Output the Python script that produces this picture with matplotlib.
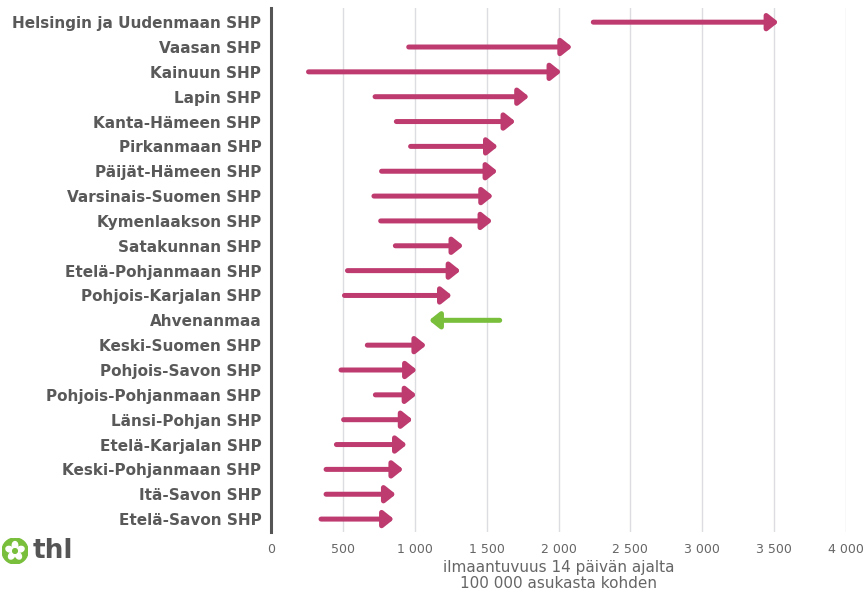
import matplotlib
matplotlib.use("Agg")
import matplotlib.pyplot as plt
from matplotlib.patches import Circle, Ellipse
import numpy as np

regions = [
    "Helsingin ja Uudenmaan SHP", "Vaasan SHP", "Kainuun SHP", "Lapin SHP",
    "Kanta-Hämeen SHP", "Pirkanmaan SHP", "Päijät-Hämeen SHP",
    "Varsinais-Suomen SHP", "Kymenlaakson SHP", "Satakunnan SHP",
    "Etelä-Pohjanmaan SHP", "Pohjois-Karjalan SHP", "Ahvenanmaa",
    "Keski-Suomen SHP", "Pohjois-Savon SHP", "Pohjois-Pohjanmaan SHP",
    "Länsi-Pohjan SHP", "Etelä-Karjalan SHP", "Keski-Pohjanmaan SHP",
    "Itä-Savon SHP", "Etelä-Savon SHP",
]
# earlier and latest incidence per 100 000 (14 days)
start = [2242, 958, 261, 724, 872, 971, 769, 716, 763, 865, 532, 511, 1591,
         670, 487, 726, 505, 455, 383, 383, 348]
end = [3530, 2095, 2020, 1795, 1700, 1578, 1575, 1545, 1540, 1338, 1318, 1258,
       1100, 1080, 1015, 1012, 985, 945, 920, 868, 855]
xticks = [0, 500, 1000, 1500, 2000, 2500, 3000, 3500, 4000]

pink = "#be3b6f"
green = "#79bf3c"
grey = "#595959"

fig = plt.figure(figsize=(8.66, 5.90), dpi=100)
ax = fig.add_axes([271 / 866, 58 / 590, 575 / 866, 524 / 590])

for i, (s, e) in enumerate(zip(start, end)):
    col = pink if e >= s else green
    ax.annotate("", xy=(e, i), xytext=(s, i),
                arrowprops=dict(arrowstyle="-|>,head_length=0.75,head_width=0.6",
                                color=col, lw=3.6, shrinkA=0, shrinkB=0,
                                mutation_scale=8, joinstyle="round"))

ax.set_xlim(0, 4000)
ax.set_ylim(len(regions) - 0.48, -0.57)
ax.set_yticks(range(len(regions)))
ax.set_yticklabels(regions, fontsize=11, fontweight="bold", color=grey)
ax.set_xticks(xticks)
ax.set_xticklabels([f"{v:,}".replace(",", " ") for v in xticks],
                   fontsize=9, color="#666666")
ax.tick_params(axis="both", length=0)
ax.tick_params(axis="y", pad=7)
ax.tick_params(axis="x", pad=8)
ax.set_xlabel("ilmaantuvuus 14 päivän ajalta\n100 000 asukasta kohden",
              fontsize=11, color="#666666", labelpad=3, linespacing=1.05)
ax.grid(axis="x", color="#dcdde0", lw=1)
ax.set_axisbelow(True)
for side in ["top", "right", "bottom"]:
    ax.spines[side].set_visible(False)
ax.spines["left"].set_color("#555555")
ax.spines["left"].set_linewidth(2.2)

# thl logo
logo = fig.add_axes([2 / 866, (590 - 564) / 590, 26 / 866, 26 / 590])
logo.set_xlim(-1, 1)
logo.set_ylim(-1, 1)
logo.axis("off")
logo.add_patch(Circle((0, 0), 1, color=green))
for k in range(5):
    a = np.pi / 2 + k * 2 * np.pi / 5
    logo.add_patch(Ellipse((0.45 * np.cos(a), 0.45 * np.sin(a)), 0.55, 0.42,
                           angle=np.degrees(a), color="white"))
logo.add_patch(Circle((0, 0), 0.18, color=green))
fig.text(33 / 866, (590 - 551) / 590, "thl", fontsize=19, fontweight="bold",
         color="#555555", va="center", ha="left")

fig.savefig("out.png", dpi=100)
